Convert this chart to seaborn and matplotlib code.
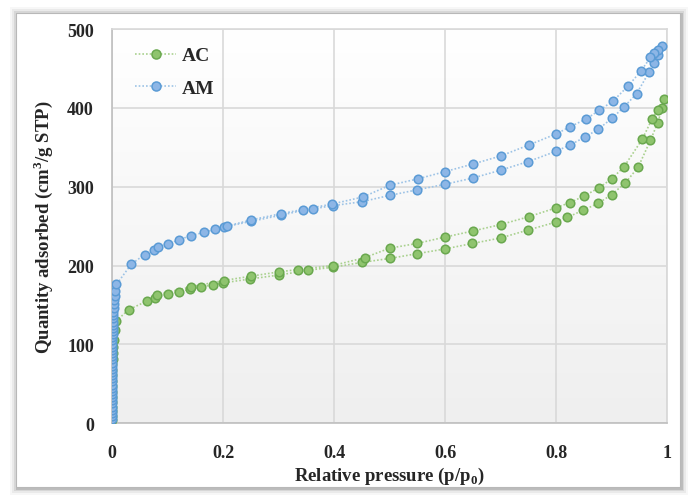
import numpy as np
import pandas as pd
import matplotlib
matplotlib.use("Agg")
import matplotlib.pyplot as plt
import seaborn as sns
from matplotlib.lines import Line2D
from matplotlib.patches import Rectangle

# AC isotherm: adsorption branch (ascending p) followed by desorption branch
ac_p = [0.0, 0.0, 0.0, 0.0, 0.0, 0.0, 0.0, 0.0, 0.0, 0.0, 0.0, 0.0,
        0.001, 0.001, 0.002, 0.003, 0.005, 0.008,
        0.030, 0.063, 0.078, 0.100, 0.121, 0.141, 0.161, 0.182, 0.200,
        0.249, 0.301, 0.353, 0.399, 0.450, 0.500, 0.549, 0.599, 0.649,
        0.700, 0.749, 0.799, 0.820, 0.848, 0.876, 0.900, 0.925, 0.948,
        0.970, 0.983, 0.991, 0.995,
        0.983, 0.973, 0.955, 0.922, 0.900, 0.878, 0.850, 0.825, 0.799,
        0.751, 0.700, 0.651, 0.599, 0.549, 0.500, 0.455, 0.398, 0.335,
        0.301, 0.250, 0.201, 0.142, 0.081]
ac_q = [4, 9, 15, 21, 27, 33, 40, 47, 54, 61, 68, 75,
        82, 89, 97, 105, 118, 130,
        144, 155, 159, 164, 167, 170, 173, 175.5, 178,
        183, 188, 194, 198, 204, 209, 215, 221, 228,
        235, 245, 255, 261, 270, 279, 290, 305, 325,
        359, 381, 400, 411,
        398, 386, 360, 325, 310, 299, 288, 280, 273,
        262, 252, 244, 236, 228, 222, 210, 200, 195,
        192, 186.5, 181, 173, 163]

# AM isotherm: adsorption branch then desorption branch
am_p = [0.0, 0.0, 0.0, 0.0, 0.0, 0.0, 0.0, 0.0, 0.0, 0.0, 0.0, 0.0,
        0.0, 0.0, 0.0, 0.0, 0.0, 0.0, 0.0, 0.0, 0.0, 0.0, 0.0, 0.0,
        0.0, 0.0005, 0.0005, 0.001, 0.001, 0.001, 0.0015, 0.0015, 0.002,
        0.002, 0.0025, 0.003, 0.0035, 0.004, 0.005, 0.006, 0.008,
        0.035, 0.059, 0.076, 0.083, 0.101, 0.121, 0.143, 0.165, 0.186,
        0.202, 0.250, 0.305, 0.344, 0.362, 0.398, 0.450, 0.500, 0.549,
        0.599, 0.650, 0.700, 0.750, 0.800, 0.825, 0.852, 0.876, 0.901,
        0.922, 0.945, 0.968, 0.976, 0.984, 0.990,
        0.983, 0.977, 0.970, 0.953, 0.930, 0.903, 0.878, 0.854, 0.825,
        0.800, 0.751, 0.700, 0.651, 0.599, 0.551, 0.501, 0.452, 0.396,
        0.305, 0.251, 0.207]
am_q = [5, 9, 13, 17, 21, 25, 29, 33, 37, 41, 45, 49,
        53, 57, 61, 65, 69, 73, 77, 81, 85, 89, 93, 97,
        101, 105, 109, 113, 117, 121, 125, 129, 133,
        137, 141, 146, 151, 156, 162, 168, 176,
        202, 214, 220, 224, 227, 233, 238, 242, 246,
        249, 256, 264, 270, 272, 276, 281, 289, 296,
        303, 311, 321, 332, 345, 353, 363, 373, 387,
        401, 418, 446, 457, 467, 478,
        474, 470, 464, 447, 428, 409, 397, 386, 376,
        367, 353, 339, 329, 319, 310, 302, 287, 278,
        266, 258, 250]

series_names = ["AC", "AM"]
line_colors = {"AC": "#a9d18e", "AM": "#9dc3e6"}
face_colors = {"AC": "#8fc46e", "AM": "#8db6e6"}
edge_colors = {"AC": "#6aa84f", "AM": "#5b9bd5"}

df = pd.concat([
    pd.DataFrame({"p": ac_p, "q": ac_q, "sample": "AC"}),
    pd.DataFrame({"p": am_p, "q": am_q, "sample": "AM"}),
], ignore_index=True)

sns.set_theme(style="white")
plt.rcParams["font.family"] = ["Liberation Serif", "DejaVu Serif"]
plt.rcParams["font.weight"] = "bold"

fig = plt.figure(figsize=(7.0, 5.02), dpi=100)
ax = fig.add_axes([0.160, 0.155, 0.793, 0.785])

# outer frame with soft shadow (pixel coordinates, drawn behind the axes)
for d, a in [(7, 0.03), (5, 0.05), (3, 0.08), (1.5, 0.12)]:
    fig.patches.append(Rectangle((16 - d + 1, 14 - d - 1), 664 + 2 * d, 474 + 2 * d,
                                 transform=None, facecolor=(0, 0, 0, a),
                                 edgecolor="none", zorder=-2))
fig.patches.append(Rectangle((16, 14), 664, 474, transform=None,
                             facecolor="white", edgecolor="#b8b8b8",
                             linewidth=0.8, zorder=-1))

# plot area gradient
grad = np.linspace(1, 0, 256).reshape(-1, 1)
ax.imshow(grad, extent=(0, 1, 0, 1), transform=ax.transAxes, aspect="auto",
          cmap=matplotlib.colors.LinearSegmentedColormap.from_list("g", ["#efefef", "#ffffff"]),
          zorder=0)

for name in series_names:
    sub = df[df["sample"] == name]
    sns.lineplot(data=sub, x="p", y="q", sort=False, estimator=None, ax=ax,
                 color=line_colors[name], linestyle=(0, (1, 1.2)), linewidth=1.2,
                 zorder=2)
    sns.scatterplot(data=sub, x="p", y="q", ax=ax, s=38,
                    color=face_colors[name], edgecolor=edge_colors[name],
                    linewidth=1.1, zorder=3)

ax.set_xlim(0, 1)
ax.set_ylim(0, 500)
ax.set_xticks([0, 0.2, 0.4, 0.6, 0.8, 1.0])
ax.set_xticklabels(["0", "0.2", "0.4", "0.6", "0.8", "1"])
ax.set_yticks([0, 100, 200, 300, 400, 500])
ax.grid(True, color="#d9d9d9", linewidth=1.2)
ax.set_axisbelow(True)
for s in ax.spines.values():
    s.set_color("#d9d9d9")
    s.set_linewidth(1.2)
ax.spines["left"].set_color("#bfbfbf")
ax.spines["bottom"].set_color("#bfbfbf")
ax.tick_params(axis="both", length=0, labelsize=13)
ax.tick_params(axis="y", pad=13)
ax.tick_params(axis="x", pad=15)

ax.set_xlabel("Relative pressure (p/p$_\\mathregular{0}$)", fontsize=13.5,
              fontweight="bold", labelpad=3)
ax.set_ylabel("Quantity adsorbed (cm$^\\mathregular{3}$/g STP)", fontsize=13.5,
              fontweight="bold", labelpad=9)

handles = [Line2D([0], [0], color=line_colors[n], linestyle=(0, (1, 1.2)),
                  linewidth=1.2, marker="o", markersize=6.5,
                  markerfacecolor=face_colors[n], markeredgecolor=edge_colors[n],
                  markeredgewidth=1.1) for n in series_names]
leg = ax.legend(handles, series_names, loc="upper left", frameon=False,
                fontsize=14, handlelength=2.1, handletextpad=0.3,
                labelspacing=0.75, borderaxespad=0,
                bbox_to_anchor=(0.028, 0.975))
for t in leg.get_texts():
    t.set_fontweight("bold")

fig.savefig("out.png", dpi=100)
